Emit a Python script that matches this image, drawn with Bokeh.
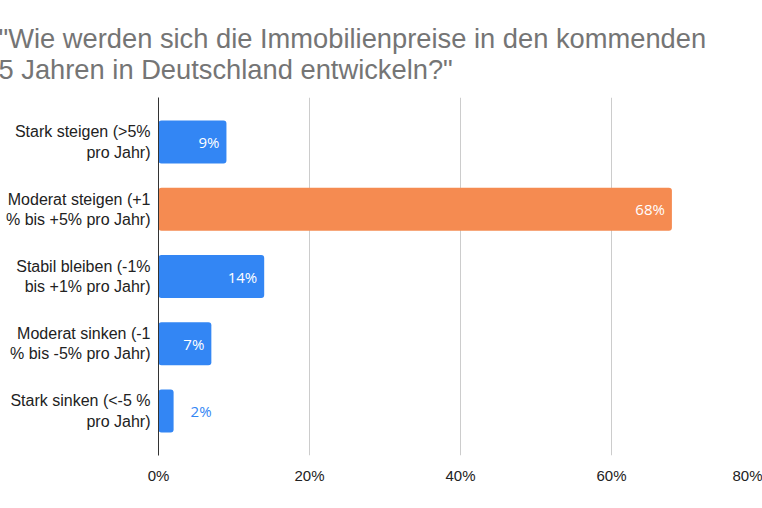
from bokeh.plotting import figure
from bokeh.models import (ColumnDataSource, FactorRange, Range1d, FixedTicker,
                          PrintfTickFormatter, Title)
from bokeh.core.properties import value
from bokeh.embed import file_html
from bokeh.resources import INLINE

# ---- data ----
title_lines = ['"Wie werden sich die Immobilienpreise in den kommenden',
               '5 Jahren in Deutschland entwickeln?"']
categories = ["Stark steigen (>5%\npro Jahr)",
              "Moderat steigen (+1\n% bis +5% pro Jahr)",
              "Stabil bleiben (-1%\nbis +1% pro Jahr)",
              "Moderat sinken (-1\n% bis -5% pro Jahr)",
              "Stark sinken (<-5 %\npro Jahr)"]
values = [9, 68, 14, 7, 2]
x_ticks = [0, 20, 40, 60, 80]
x_max = 80

# ---- styles ----
BLUE = "#3386f4"
ORANGE = "#f58b51"
vmax = max(values)
colors = [ORANGE if v == vmax else BLUE for v in values]
inside = [v >= 5 for v in values]
label_text = [f"{v}%" for v in values]
label_color = ["white" if i else BLUE for i in inside]
label_align = ["right" if i else "left" for i in inside]
label_offset = [-7 if i else 17 for i in inside]

src = ColumnDataSource(dict(cat=categories, val=values, color=colors,
                            txt=label_text, tcol=label_color,
                            talign=label_align, toff=label_offset))

p = figure(width=762, height=508, output_backend="svg", toolbar_location=None,
           y_range=FactorRange(factors=list(reversed(categories)), range_padding=0.064),
           x_range=Range1d(0, x_max),
           min_border_left=158, min_border_right=0, min_border_top=97,
           min_border_bottom=53)
p.outline_line_color = None
p.background_fill_color = "white"
p.border_fill_color = "white"

p.hbar(y="cat", left=0, right="val", height=0.64, color="color",
       line_color=None, border_radius=3, source=src)

p.text(x="val", y="cat", text="txt", text_color="tcol", text_align="talign",
       x_offset="toff", text_baseline="middle", text_font=value("Open Sans"),
       text_font_size="15px", source=src)

# axes
p.xaxis.ticker = FixedTicker(ticks=x_ticks)
p.xaxis.formatter = PrintfTickFormatter(format="%d%%")
p.xaxis.axis_line_color = None
p.xaxis.major_tick_line_color = None
p.xaxis.minor_tick_line_color = None
p.xaxis.major_tick_out = 0
p.xaxis.major_tick_in = 0
p.xaxis.major_label_standoff = 11
p.xaxis.major_label_text_font = "Liberation Sans"
p.xaxis.major_label_text_font_size = "15px"
p.xaxis.major_label_text_color = "#222222"

p.yaxis.axis_line_color = "#333333"
p.yaxis.axis_line_width = 1
p.yaxis.major_tick_line_color = None
p.yaxis.major_tick_out = 0
p.yaxis.major_tick_in = 0
p.yaxis.major_label_standoff = 8
p.yaxis.major_label_text_font = "Liberation Sans"
p.yaxis.major_label_text_font_size = "16px"
p.yaxis.major_label_text_color = "#222222"

p.ygrid.grid_line_color = None
p.xgrid.ticker = FixedTicker(ticks=[t for t in x_ticks if t < x_max])
p.xgrid.grid_line_color = "#cccccc"

# title
p.add_layout(Title(text="\n".join(title_lines), align="left", offset=-160,
                   text_font="Liberation Sans", text_font_size="27.3px",
                   text_font_style="normal", text_color="#757575",
                   text_line_height=1.0, standoff=26), "above")

open("out.html", "w").write(file_html(p, INLINE))
